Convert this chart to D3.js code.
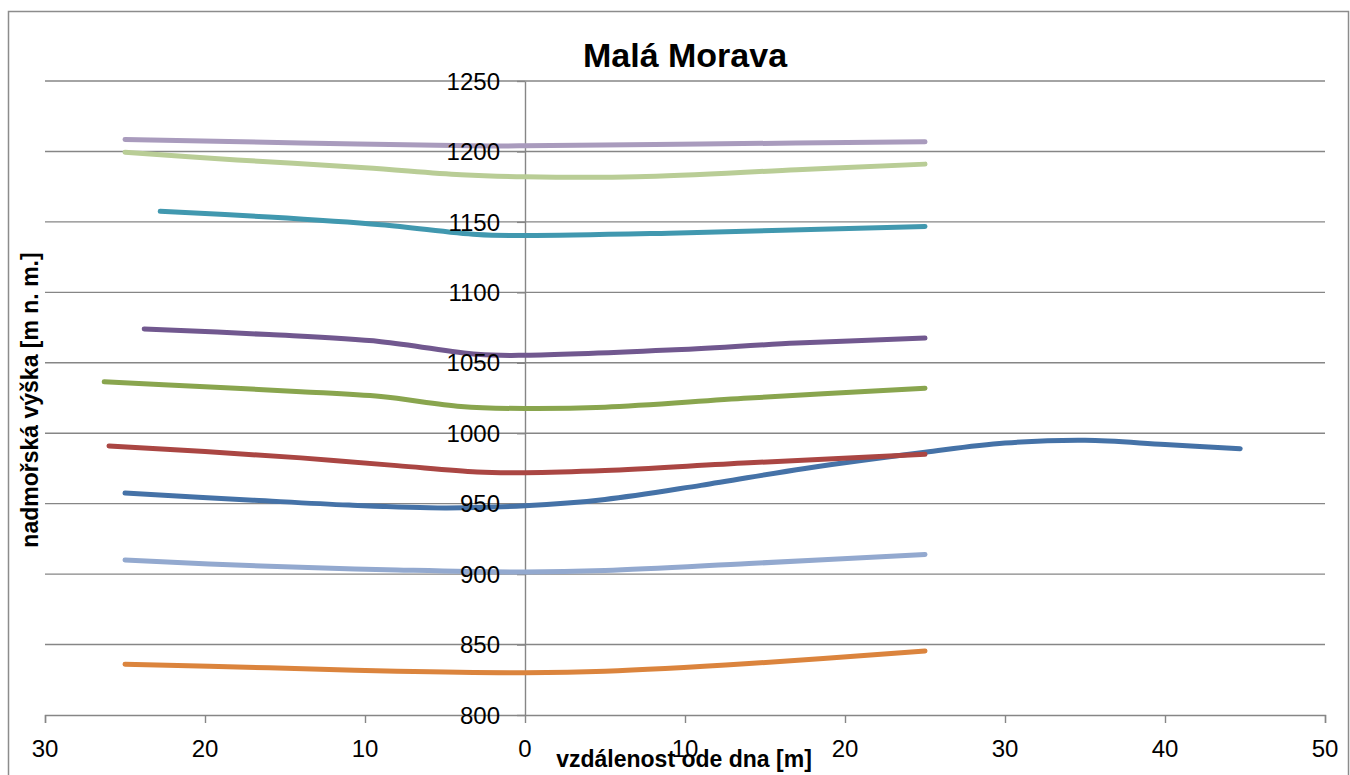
<!DOCTYPE html>
<html>
<head>
<meta charset="utf-8">
<script src="https://cdn.jsdelivr.net/npm/d3@7"></script>
<style>
  html, body { margin: 0; padding: 0; background: #fff; }
  svg { display: block; }
</style>
</head>
<body>
<svg id="chart" width="1350" height="775"></svg>
<script>
// ---- data ----
const chartTitle = "Malá Morava";
const xTitle = "vzdálenost ode dna [m]";
const yTitle = "nadmořská výška [m n. m.]";
const xTicks = [-30, -20, -10, 0, 10, 20, 30, 40, 50];
const yTicks = [800, 850, 900, 950, 1000, 1050, 1100, 1150, 1200, 1250];

const s1 = [[-25, 957.5], [-17, 952.5], [-11, 949], [-5, 947], [0, 948.5], [5, 953], [11, 963], [17.5, 975], [25, 986.5], [30, 993], [35, 995], [40, 992], [44.7, 989]];
const s2 = [[-26, 991], [-20, 987], [-14, 982.5], [-8, 977], [-3, 972.5], [0, 972], [5, 973.5], [14, 979], [25, 985]];
const s3 = [[-26.3, 1036.5], [-20, 1033], [-14, 1029.5], [-9, 1026], [-4, 1019], [0, 1017.5], [5, 1018.5], [14, 1025], [25, 1032]];
const s4 = [[-23.8, 1074], [-16, 1070], [-9, 1065], [-3, 1056], [0, 1055.3], [9, 1059], [17, 1064], [25, 1067.5]];
const s5 = [[-22.8, 1157.5], [-16, 1153.5], [-9, 1148], [-3, 1141], [0, 1140.3], [9, 1142], [25, 1146.8]];
const s6 = [[-25, 836], [-16, 833.5], [-8, 831], [0, 830], [5, 831], [14, 836.5], [25, 845.5]];
const s7 = [[-25, 910], [-16, 905.5], [-8, 903], [0, 901.5], [5, 902.5], [14, 907.5], [25, 914]];
const s9 = [[-25, 1199.5], [-18, 1194], [-10, 1188.5], [-4, 1183.5], [0, 1182], [7, 1182], [17, 1187], [25, 1191]];
const s10 = [[-25, 1208.5], [-14, 1206], [-3.5, 1204], [0, 1204], [11, 1205.3], [25, 1206.8]];

const seriesList = [s1, s2, s3, s4, s5, s6, s7, s9, s10];
const seriesColors = ["#4572A7", "#AA4643", "#89A54E", "#71588F", "#4198AF", "#DB843D", "#93A9CF", "#B9CD96", "#A99BBD"];

// ---- layout ----
const svg = d3.select("#chart");
const x = d3.scaleLinear().domain([-30, 50]).range([45, 1325]);
const y = d3.scaleLinear().domain([800, 1250]).range([715, 81]);
const axisColor = "#868686";
const font = "'Liberation Sans', Arial, sans-serif";

// outer border
svg.append("rect")
  .attr("x", 8.5).attr("y", 11.5).attr("width", 1340).attr("height", 800)
  .attr("fill", "none").attr("stroke", "#8c8c8c").attr("stroke-width", 1.5);

// horizontal gridlines
svg.append("g").selectAll("line")
  .data(yTicks.filter(v => v !== 800))
  .join("line")
  .attr("x1", x(-30)).attr("x2", x(50))
  .attr("y1", d => y(d)).attr("y2", d => y(d))
  .attr("stroke", axisColor).attr("stroke-width", 1.4);

// x axis (at y = 800)
const xAxis = d3.axisBottom(x).tickValues(xTicks).tickSize(8).tickFormat(() => "");
const gx = svg.append("g").attr("transform", `translate(0,${y(800)})`).call(xAxis);
gx.select(".domain").attr("stroke", axisColor).attr("stroke-width", 1.4);
gx.selectAll(".tick line").attr("stroke", axisColor).attr("stroke-width", 1.4);

// y axis (at x = 0)
const yAxis = d3.axisLeft(y).tickValues(yTicks).tickSize(8).tickSizeOuter(0).tickFormat(() => "");
const gy = svg.append("g").attr("transform", `translate(${x(0)},0)`).call(yAxis);
gy.select(".domain").attr("stroke", axisColor).attr("stroke-width", 1.4);
gy.selectAll(".tick line").attr("stroke", axisColor).attr("stroke-width", 1.4);

// series
const line = d3.line()
  .x(d => x(d[0])).y(d => y(d[1]))
  .curve(d3.curveCatmullRom.alpha(0.5));

svg.append("g").selectAll("path")
  .data(seriesList)
  .join("path")
  .attr("d", d => line(d))
  .attr("fill", "none")
  .attr("stroke", (d, i) => seriesColors[i])
  .attr("stroke-width", 5)
  .attr("stroke-linecap", "round")
  .attr("stroke-linejoin", "round");

// y tick labels
svg.append("g").selectAll("text")
  .data(yTicks)
  .join("text")
  .attr("x", x(0) - 25)
  .attr("y", d => y(d))
  .attr("dy", "0.36em")
  .attr("text-anchor", "end")
  .attr("font-family", font)
  .attr("font-size", 24)
  .attr("fill", "#000")
  .text(d => d);

// x tick labels
svg.append("g").selectAll("text")
  .data(xTicks)
  .join("text")
  .attr("x", d => x(d))
  .attr("y", 757)
  .attr("text-anchor", "middle")
  .attr("font-family", font)
  .attr("font-size", 24)
  .attr("fill", "#000")
  .text(d => Math.abs(d));

// title
svg.append("text")
  .attr("x", 685).attr("y", 67)
  .attr("text-anchor", "middle")
  .attr("font-family", font)
  .attr("font-weight", "bold")
  .attr("font-size", 34)
  .attr("fill", "#000")
  .text(chartTitle);

// x axis title (overlaps the "10" tick label, as in the reference)
svg.append("text")
  .attr("x", 684).attr("y", 767)
  .attr("text-anchor", "middle")
  .attr("font-family", font)
  .attr("font-weight", "bold")
  .attr("font-size", 23)
  .attr("fill", "#000")
  .text(xTitle);

// y axis title
svg.append("text")
  .attr("transform", "translate(38,400) rotate(-90)")
  .attr("text-anchor", "middle")
  .attr("font-family", font)
  .attr("font-weight", "bold")
  .attr("font-size", 23)
  .attr("fill", "#000")
  .text(yTitle);
</script>
</body>
</html>
